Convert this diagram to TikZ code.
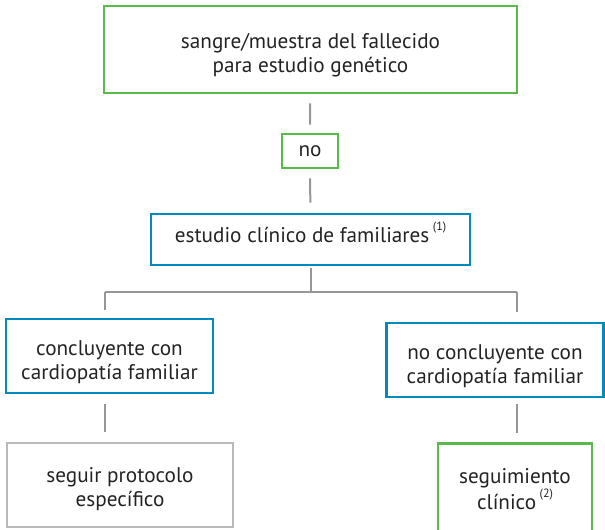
\documentclass[tikz,border=0pt]{standalone}
\usepackage{fontspec}
\setmainfont{PT Sans}
\definecolor{bgreen}{RGB}{88,186,72}
\definecolor{bblue}{RGB}{0,138,190}
\definecolor{bgray}{RGB}{185,185,185}
\definecolor{lgray}{RGB}{150,150,150}
\definecolor{txt}{RGB}{35,35,35}
\newcommand{\supnote}[1]{\,\raisebox{0.55em}{\fontsize{12}{12}\selectfont(#1)}}
\newcommand{\lowr}{\rule{0pt}{27pt}}
\begin{document}
\begin{tikzpicture}[x=1pt,y=-1pt,
  box/.style={draw, line width=2.6pt, inner sep=0pt, align=center, text=txt,
    font=\fontsize{21.2}{24}\selectfont},
  gbox/.style={box, draw=bgreen},
  bbox/.style={box, draw=bblue},
  ybox/.style={box, draw=bgray},
  conn/.style={draw=lgray, line width=2pt}]
\useasboundingbox (0,0) rectangle (605,530);
\node[gbox, minimum width=413pt, minimum height=87pt] (top) at (310.5,49.5)
  {\lowr sangre/muestra del fallecido\\para estudio genético};
\node[gbox, minimum width=56pt, minimum height=34pt] (no) at (310,151) {no};
\node[bbox, minimum width=319pt, minimum height=51pt] (study) at (310.5,239.5)
  {estudio clínico de familiares\supnote{1}\rule[-14pt]{0pt}{0pt}};
\node[bbox, minimum width=207pt, minimum height=74pt] (left) at (109.5,356)
  {\lowr concluyente con\\cardiopatía familiar};
\node[bbox, minimum width=217pt, minimum height=74pt] (right) at (495,360)
  {\lowr no concluyente con\\cardiopatía familiar};
\node[ybox, minimum width=226pt, minimum height=84pt] (proto) at (120,485)
  {\rule{0pt}{24pt}seguir protocolo\\específico};
\node[gbox, minimum width=154pt, minimum height=96pt, anchor=north] (seg) at (515,442)
  {};
\node[text=txt, align=center, font=\fontsize{21.2}{24}\selectfont] (segt) at (515,489)
  {seguimiento\\clínico\supnote{2}};
\coordinate (hl) at (105,292);
\coordinate (hr) at (517,292);
\draw[conn, shorten <=9pt, shorten >=8pt] (top) -- (no);
\draw[conn, shorten <=9pt, shorten >=10pt] (no) -- (study);
\draw[conn, shorten <=2pt] (study.south) -- (study.south |- hl);
\draw[conn] (hl) -- (hr);
\draw[conn, shorten >=8pt] (hl) -- (hl |- left.north);
\draw[conn, shorten >=10pt] (hr) -- (hr |- right.north);
\draw[conn, shorten <=10pt, shorten >=10pt] (hl |- left.south) -- (hl |- proto.north);
\draw[conn, shorten <=6pt, shorten >=9pt] (hr |- right.south) -- (hr |- seg.north);
\end{tikzpicture}
\end{document}
